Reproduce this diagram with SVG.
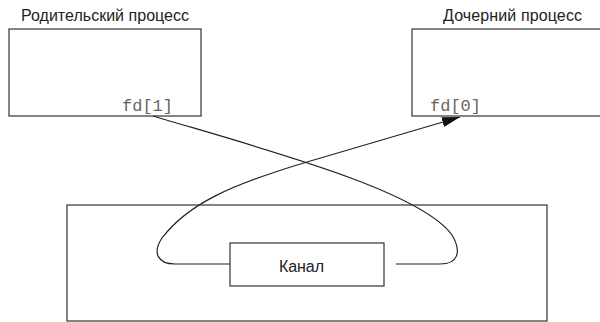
<svg xmlns="http://www.w3.org/2000/svg" width="600" height="322" viewBox="0 0 600 322">
<style>
.box{fill:none;stroke:#333;stroke-width:1.2}
.ln{fill:none;stroke:#222;stroke-width:1.2}
.title{font-family:"Liberation Sans",Arial,sans-serif;font-size:16px;fill:#222}
.mono{font-family:"Liberation Mono","Courier New",monospace;font-size:17px;fill:#666}
</style>
<defs>
<marker id="arr" viewBox="0 0 18 10" refX="18" refY="5" markerWidth="18" markerHeight="10" markerUnits="userSpaceOnUse" orient="auto">
<path d="M0,0 L18,5 L0,10 Z" fill="#111"/>
</marker>
</defs>
<rect width="600" height="322" fill="#fff"/>
<g id="parent">
<text class="title" x="21" y="21" textLength="168">Родительский процесс</text>
<rect class="box" x="9" y="29" width="192" height="87"/>
<text class="mono" x="122" y="111">fd[1]</text>
</g>
<g id="child">
<text class="title" x="443" y="21" textLength="139">Дочерний процесс</text>
<rect class="box" x="412" y="29" width="200" height="87"/>
<text class="mono" x="430" y="111">fd[0]</text>
</g>
<g id="kernel">
<rect class="box" x="67" y="205" width="480" height="116"/>
</g>
<g id="pipe">
<rect class="box" x="230" y="243" width="154" height="43"/>
<text class="title" x="279" y="272" textLength="45">Канал</text>
</g>
<g id="connectors">
<path class="ln" d="M153,116 C260,148 420,190 452,235 C462,252 458,264 440,264 L396,264"/>
<path class="ln" d="M230,264 L175,264 C158,264 152,253 162,238 C188,204 230,185 307,162 L460,117" marker-end="url(#arr)"/>
</g>
</svg>
